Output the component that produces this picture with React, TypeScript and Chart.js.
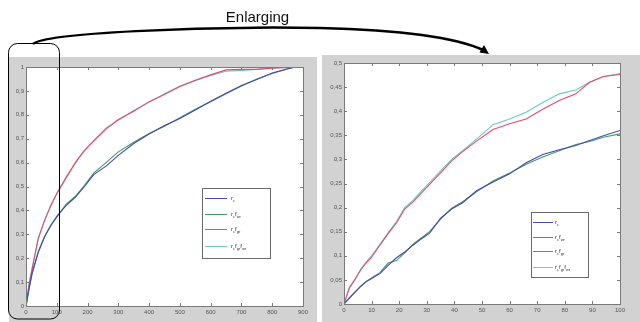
import React, { useEffect, useRef } from "react";
import { Chart, registerables } from "chart.js";

Chart.register(...registerables);

// ---------- data ----------
const seriesLabels = ["r_c", "r_c f_wr", "r_c f_gr", "r_c f_gr f_wr"];
const seriesColors = ["#4848b0", "#3f9f62", "#e84a6a", "#66ccc4"];

const leftX = [0, 10, 20, 40, 60, 80, 100, 130, 160, 190, 220, 260, 300, 350, 400, 450, 500, 550, 600, 650, 700, 750, 800, 850, 875];
const leftRc = [0, 0.075, 0.14, 0.225, 0.29, 0.335, 0.375, 0.42, 0.455, 0.5, 0.55, 0.585, 0.63, 0.68, 0.72, 0.755, 0.785, 0.82, 0.857, 0.89, 0.923, 0.948, 0.975, 0.993, 1.0];
const leftRcFwr = [0, 0.07, 0.135, 0.228, 0.288, 0.338, 0.372, 0.425, 0.458, 0.505, 0.556, 0.6, 0.645, 0.685, 0.722, 0.752, 0.788, 0.823, 0.855, 0.888, 0.92, 0.95, 0.973, 0.992, 1.0];
const leftRcFgr = [0, 0.09, 0.155, 0.285, 0.355, 0.42, 0.47, 0.535, 0.6, 0.65, 0.69, 0.74, 0.78, 0.815, 0.855, 0.885, 0.918, 0.945, 0.967, 0.988, 0.99, 0.99, 0.995, 0.998, 1.0];
const leftRcFgrFwr = [0, 0.095, 0.16, 0.28, 0.36, 0.415, 0.472, 0.54, 0.597, 0.652, 0.692, 0.745, 0.777, 0.818, 0.852, 0.888, 0.92, 0.943, 0.965, 0.982, 0.986, 0.99, 0.996, 0.998, 1.0];

const rightX = [0, 2, 4, 6, 8, 10, 13, 16, 19, 22, 25, 28, 31, 35, 39, 43, 48, 54, 60, 66, 72, 78, 84, 89, 94, 100];
const rightRc = [0, 0.013, 0.025, 0.036, 0.046, 0.053, 0.063, 0.08, 0.096, 0.108, 0.122, 0.135, 0.147, 0.178, 0.197, 0.21, 0.235, 0.253, 0.27, 0.293, 0.31, 0.32, 0.329, 0.339, 0.349, 0.36];
const rightRcFwr = [0, 0.012, 0.024, 0.037, 0.047, 0.054, 0.065, 0.085, 0.09, 0.106, 0.124, 0.137, 0.15, 0.176, 0.199, 0.212, 0.233, 0.255, 0.272, 0.29, 0.305, 0.318, 0.331, 0.337, 0.346, 0.353];
const rightRcFgr = [0, 0.035, 0.052, 0.07, 0.085, 0.097, 0.122, 0.146, 0.168, 0.197, 0.212, 0.23, 0.248, 0.272, 0.297, 0.316, 0.338, 0.362, 0.374, 0.384, 0.404, 0.422, 0.436, 0.46, 0.472, 0.476];
const rightRcFgrFwr = [0, 0.033, 0.05, 0.072, 0.087, 0.1, 0.124, 0.148, 0.171, 0.2, 0.215, 0.234, 0.252, 0.276, 0.3, 0.318, 0.342, 0.372, 0.384, 0.398, 0.418, 0.436, 0.444, 0.46, 0.472, 0.478];

const leftTitle = "Enlarging";

// ---------- helpers ----------
const fmt = (v: number | string) => String(+Number(v).toFixed(4)).replace(".", ",");
const FONT = "'Liberation Sans', Arial, sans-serif";

function drawRich(ctx: CanvasRenderingContext2D, text: string, x: number, y: number) {
  let cx = x;
  const tokens = text.split(" ");
  for (const tok of tokens) {
    const [main, sub] = tok.split("_");
    ctx.font = `6px ${FONT}`;
    ctx.fillText(main, cx, y);
    cx += ctx.measureText(main).width;
    if (sub) {
      ctx.font = `4px ${FONT}`;
      ctx.fillText(sub, cx, y + 2);
      cx += ctx.measureText(sub).width;
    }
  }
}

const framePlugin = {
  id: "frame",
  beforeDraw(chart: any) {
    const { ctx, chartArea: a } = chart;
    ctx.save();
    ctx.fillStyle = "#ffffff";
    ctx.fillRect(a.left, a.top, a.right - a.left, a.bottom - a.top);
    ctx.restore();
  },
  afterDatasetsDraw(chart: any, _args: any, opts: any) {
    const { ctx, chartArea: a } = chart;
    const xs = chart.scales.x;
    const ys = chart.scales.y;
    ctx.save();
    ctx.strokeStyle = "#7a7a7a";
    ctx.lineWidth = 1;
    ctx.beginPath();
    for (const t of xs.ticks) {
      const px = Math.round(xs.getPixelForValue(t.value)) + 0.5;
      ctx.moveTo(px, a.bottom);
      ctx.lineTo(px, a.bottom - 3);
      ctx.moveTo(px, a.top);
      ctx.lineTo(px, a.top + 3);
    }
    for (const t of ys.ticks) {
      const py = Math.round(ys.getPixelForValue(t.value)) + 0.5;
      ctx.moveTo(a.left, py);
      ctx.lineTo(a.left + 3, py);
      ctx.moveTo(a.right, py);
      ctx.lineTo(a.right - 3, py);
    }
    ctx.stroke();
    ctx.strokeRect(Math.round(a.left) + 0.5, Math.round(a.top) + 0.5, Math.round(a.right - a.left), Math.round(a.bottom - a.top));

    // legend
    const lg = opts.legend;
    if (lg) {
      const bx = a.left + lg.dx;
      const by = a.top + lg.dy;
      ctx.fillStyle = "#ffffff";
      ctx.fillRect(bx, by, lg.w, lg.h);
      ctx.strokeStyle = "#6a6a6a";
      ctx.strokeRect(Math.round(bx) + 0.5, Math.round(by) + 0.5, lg.w, lg.h);
      chart.data.datasets.forEach((ds: any, i: number) => {
        const y = Math.round(a.top + lg.rows[i]) + 0.5;
        ctx.strokeStyle = ds.borderColor;
        ctx.beginPath();
        ctx.moveTo(a.left + lg.lx0, y);
        ctx.lineTo(a.left + lg.lx1, y);
        ctx.stroke();
        ctx.fillStyle = "#333";
        ctx.textBaseline = "middle";
        drawRich(ctx, ds.label, a.left + lg.tx, y);
      });
    }
    ctx.restore();
  },
};

function makeConfig(
  xs: number[],
  ys: number[][],
  xMax: number,
  yMax: number,
  xStep: number,
  yStep: number,
  pad: any,
  axisW: number,
  axisH: number,
  legend: any
): any {
  return {
    type: "line",
    data: {
      datasets: ys.map((arr, i) => ({
        label: seriesLabels[i],
        data: xs.map((x, j) => ({ x, y: arr[j] })),
        borderColor: seriesColors[i],
        borderWidth: 1.1,
        pointRadius: 0,
        tension: 0,
        fill: false,
      })),
    },
    options: {
      animation: false,
      responsive: false,
      devicePixelRatio: 1,
      layout: { padding: pad },
      plugins: {
        legend: { display: false },
        tooltip: { enabled: false },
        frame: { legend },
      },
      scales: {
        x: {
          type: "linear",
          min: 0,
          max: xMax,
          grid: { display: false, drawTicks: false },
          border: { display: false },
          ticks: {
            stepSize: xStep,
            autoSkip: false,
            maxRotation: 0,
            padding: 3,
            color: "#555",
            font: { family: FONT, size: 6 },
            callback: (v: number) => fmt(v),
          },
          afterFit: (axis: any) => {
            axis.height = axisH;
          },
        },
        y: {
          type: "linear",
          min: 0,
          max: yMax,
          grid: { display: false, drawTicks: false },
          border: { display: false },
          ticks: {
            stepSize: yStep,
            autoSkip: false,
            padding: 2,
            color: "#555",
            font: { family: FONT, size: 6 },
            callback: (v: number) => fmt(v),
          },
          afterFit: (axis: any) => {
            axis.width = axisW;
          },
        },
      },
    },
    plugins: [framePlugin],
  };
}

export default function App() {
  const lRef = useRef<HTMLCanvasElement>(null);
  const rRef = useRef<HTMLCanvasElement>(null);

  useEffect(() => {
    document.body.style.margin = "0";
    const c1 = new Chart(
      lRef.current as HTMLCanvasElement,
      makeConfig(
        leftX,
        [leftRc, leftRcFwr, leftRcFgr, leftRcFgrFwr],
        900,
        1,
        100,
        0.1,
        { left: 0, top: 10, right: 14, bottom: 0 },
        17,
        16,
        { dx: 176, dy: 121, w: 68, h: 70, lx0: 179, lx1: 201, tx: 205, rows: [131, 147, 162, 179] }
      )
    );
    const c2 = new Chart(
      rRef.current as HTMLCanvasElement,
      makeConfig(
        rightX,
        [rightRc, rightRcFwr, rightRcFgr, rightRcFgrFwr],
        100,
        0.5,
        10,
        0.05,
        { left: 0, top: 8, right: 20, bottom: 0 },
        22,
        18,
        { dx: 187, dy: 149, w: 57, h: 65, lx0: 189, lx1: 209, tx: 211, rows: [159, 174, 188, 204] }
      )
    );
    return () => {
      c1.destroy();
      c2.destroy();
    };
  }, []);

  return (
    <div style={{ position: "absolute", left: 0, top: 0, width: 640, height: 322, background: "#ffffff", overflow: "hidden" }}>
      <canvas
        ref={lRef}
        width={308}
        height={265}
        style={{ position: "absolute", left: 9, top: 57, width: 308, height: 265, background: "#d2d2d2" }}
      />
      <canvas
        ref={rRef}
        width={318}
        height={267}
        style={{ position: "absolute", left: 322, top: 55, width: 318, height: 267, background: "#d2d2d2" }}
      />
      <svg width={640} height={322} style={{ position: "absolute", left: 0, top: 0, pointerEvents: "none" }}>
        <text x={257.5} y={21.5} textAnchor="middle" fontFamily={FONT} fontSize={15} fill="#111">
          {leftTitle}
        </text>
        <path d="M33,44 C45,33 200,26 320,28 C400,30 455,37 483,50" stroke="#000" strokeWidth={2.5} fill="none" />
        <polygon points="489,54 479.5,52.5 484,45" fill="#000" />
        <rect x={8.5} y={43.5} width={51} height={275.5} rx={9} ry={9} fill="none" stroke="#000" strokeWidth={1} />
      </svg>
    </div>
  );
}
